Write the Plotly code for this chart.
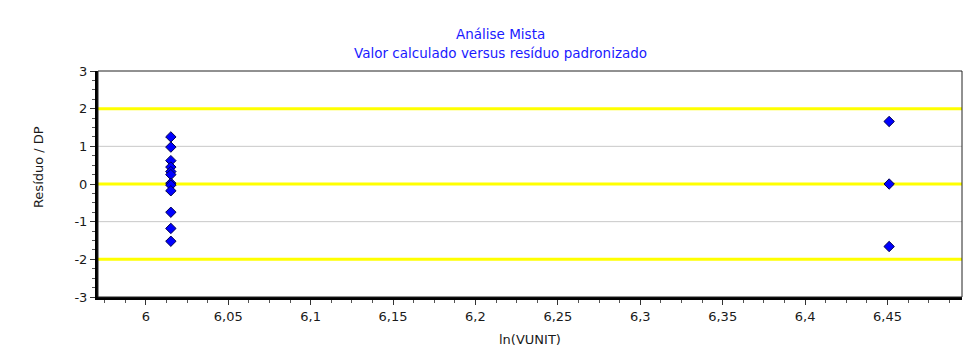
import plotly.graph_objects as go

# Data
x_values = [6.0152] * 12 + [6.451] * 3
residuals = [1.25, 0.98, 0.62, 0.45, 0.33, 0.25, 0.02, -0.03, -0.18, -0.75, -1.18, -1.52,
             1.66, 0.0, -1.66]
grid_lines = [-1, 1]
limit_lines = [-2, 0, 2]
y_ticks = [-3, -2, -1, 0, 1, 2, 3]
x_ticks = [6.0, 6.05, 6.1, 6.15, 6.2, 6.25, 6.3, 6.35, 6.4, 6.45]

font_family = "DejaVu Sans, Verdana, sans-serif"
title_color = "#1a1aff"
text_color = "#1a1a1a"

fig = go.Figure()
fig.add_trace(go.Scatter(
    x=x_values, y=residuals, mode="markers",
    marker=dict(symbol="diamond", size=8, color="#0000ff",
                line=dict(color="#000050", width=1)),
    showlegend=False,
))

for v in grid_lines:
    fig.add_shape(type="line", xref="x domain", yref="y", x0=0, x1=1, y0=v, y1=v,
                  line=dict(color="#c8c8c8", width=1), layer="below")
for v in limit_lines:
    fig.add_shape(type="line", xref="x domain", yref="y", x0=0, x1=1, y0=v, y1=v,
                  line=dict(color="#ffff00", width=3), layer="below")

# thin frame (top/right)
fig.add_shape(type="rect", xref="x domain", yref="y domain", x0=0, x1=1, y0=0, y1=1,
              line=dict(color="#222222", width=1), layer="above")

# titles as annotations (positioned relative to the plot area)
fig.add_annotation(text="Análise Mista", xref="paper", yref="paper",
                   x=0.4653, y=1.1637, xanchor="center", yanchor="middle",
                   showarrow=False, font=dict(family=font_family, size=13.5, color=title_color))
fig.add_annotation(text="Valor calculado versus resíduo padronizado", xref="paper", yref="paper",
                   x=0.4653, y=1.0796, xanchor="center", yanchor="middle",
                   showarrow=False, font=dict(family=font_family, size=13.5, color=title_color))
fig.add_annotation(text="ln(VUNIT)", xref="paper", yref="paper",
                   x=0.5, y=-0.186, xanchor="center", yanchor="middle",
                   showarrow=False, font=dict(family=font_family, size=13, color=text_color))
fig.add_annotation(text="Resíduo / DP", xref="paper", yref="paper",
                   x=-0.0694, y=0.575, xanchor="center", yanchor="middle", textangle=-90,
                   showarrow=False, font=dict(family=font_family, size=13, color=text_color))

fig.update_layout(
    width=972, height=346,
    margin=dict(l=90, r=18, t=63, b=57),
    paper_bgcolor="white", plot_bgcolor="white",
    separators=",.",
    font=dict(family=font_family, size=13, color=text_color),
    xaxis=dict(range=[5.971, 6.4952], tickvals=x_ticks,
               ticktext=[f"{t:g}".replace(".", ",") for t in x_ticks],
               showgrid=False, zeroline=False,
               showline=True, linecolor="black", linewidth=3,
               ticks="outside", ticklen=5, tickcolor="#333333", tickwidth=1,
               minor=dict(dtick=0.0125, tick0=6.0, ticks="outside", ticklen=3,
                          tickcolor="#555555", showgrid=False),
               tickfont=dict(size=13)),
    yaxis=dict(range=[-3, 3], tickvals=y_ticks,
               ticktext=[str(t) for t in y_ticks],
               showgrid=False, zeroline=False,
               showline=True, linecolor="black", linewidth=3,
               ticks="outside", ticklen=5, tickcolor="#333333", tickwidth=1,
               minor=dict(dtick=0.25, tick0=0, ticks="outside", ticklen=3,
                          tickcolor="#555555", showgrid=False),
               tickfont=dict(size=13)),
)

fig.write_html("out.html")
